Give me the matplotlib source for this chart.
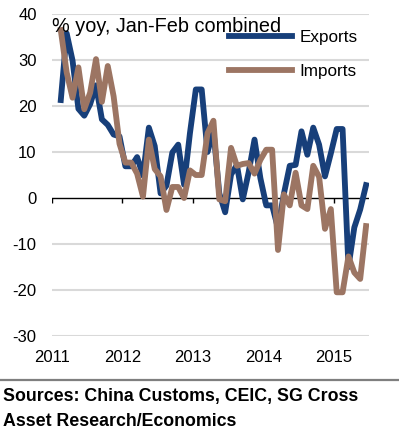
import matplotlib

matplotlib.use("Agg")
import matplotlib.pyplot as plt
import pandas as pd

plt.rcParams["font.family"] = ["Liberation Sans", "DejaVu Sans"]
plt.rcParams["axes.unicode_minus"] = False

# monthly yoy %, Feb 2011 - Jun 2015 (Jan-Feb combined value shown for both months)
months = pd.period_range("2011-02", "2015-06", freq="M")
exports = [
    21.3, 35.8, 29.9, 19.4, 17.9, 20.4, 24.5, 17.1, 15.9, 13.8, 13.4,
    6.9, 6.9, 8.9, 4.9, 15.3, 11.3, 1.0, 2.7, 9.9, 11.6, 2.9, 14.1,
    23.6, 23.6, 10.0, 14.7, 1.0, -3.1, 5.1, 7.2, -0.3, 5.6, 12.7, 4.3,
    -1.6, -1.6, -6.6, 0.9, 7.0, 7.2, 14.5, 9.4, 15.3, 11.6, 4.7, 9.7,
    15.0, 15.0, -15.0, -6.4, -2.5, 2.8,
]
imports = [
    36.5, 27.3, 21.8, 28.4, 19.3, 22.9, 30.2, 20.9, 28.7, 22.1, 11.8,
    7.7, 7.7, 5.3, 0.3, 12.7, 6.3, 4.7, -2.6, 2.4, 2.4, 0.0, 6.0,
    5.0, 5.0, 14.1, 16.8, -0.3, -0.7, 10.9, 7.0, 7.4, 7.6, 5.3, 8.3,
    10.5, 10.5, -11.3, 0.8, -1.6, 5.5, -1.6, -2.4, 7.0, 4.6, -6.7, -2.4,
    -20.5, -20.5, -12.7, -16.2, -17.6, -6.1,
]
years = [2011, 2012, 2013, 2014, 2015]
yticks = [-30, -20, -10, 0, 10, 20, 30, 40]

x = [m.year + (m.month - 0.5) / 12 for m in months]

navy = "#173F7A"
brown = "#9C7563"

fig = plt.figure(figsize=(3.99, 4.30), dpi=100)
ax = fig.add_axes([0.1303, 0.2186, 0.7945, 0.7488])

for y in yticks:
    if y != 0:
        ax.axhline(y, color="#D9D9D9", lw=1.5, zorder=0)
ax.axhline(0, color="black", lw=1.0, zorder=1)
ax.vlines(years, -1.0, 0, color="black", lw=1.0, zorder=1)

ax.plot(x, exports, color=navy, lw=4.2, label="Exports", zorder=2,
        solid_joinstyle="round")
ax.plot(x, imports, color=brown, lw=4.2, label="Imports", zorder=3,
        solid_joinstyle="round")

ax.set_xlim(2011, 2015.5)
ax.set_ylim(-30, 40)
ax.set_xticks(years)
ax.set_xticklabels([str(y) for y in years])
ax.set_yticks(yticks)
ax.tick_params(axis="both", length=0, labelsize=12)
ax.tick_params(axis="x", pad=10)
ax.tick_params(axis="y", pad=11)
for s in ax.spines.values():
    s.set_visible(False)

ax.text(0.0, 0.99, "% yoy, Jan-Feb combined", transform=ax.transAxes,
        fontsize=14.3, va="top", ha="left")

ax.legend(loc="upper left", bbox_to_anchor=(0.557, 0.95), frameon=False,
          fontsize=12.3, handlelength=3.7, handletextpad=0.45, labelspacing=1.1,
          borderaxespad=0, borderpad=0)

fig.add_artist(plt.Line2D([0, 1], [1 - 380 / 430] * 2, color="#7F7F7F", lw=1.6,
                          transform=fig.transFigure))
fig.text(0.008, 1 - 397 / 430, "Sources: China Customs, CEIC, SG Cross",
         fontsize=12.8, fontweight="bold", va="center", ha="left")
fig.text(0.008, 1 - 421 / 430, "Asset Research/Economics",
         fontsize=12.8, fontweight="bold", va="center", ha="left")

fig.savefig("out.png", dpi=100)
